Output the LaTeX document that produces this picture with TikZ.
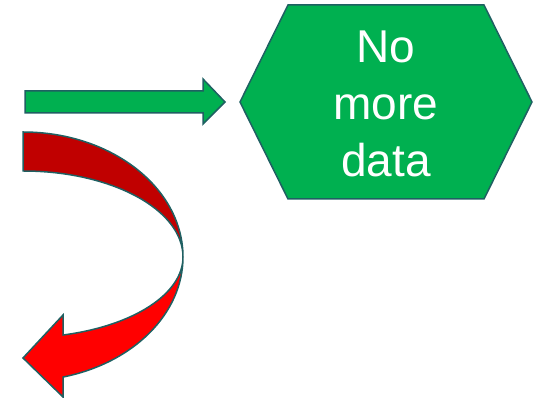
\documentclass[tikz,border=0pt]{standalone}
\usepackage{fontspec}
\setmainfont{Liberation Sans}
\usepackage{xcolor}
\usetikzlibrary{calc}
\definecolor{boxgreen}{HTML}{00B050}
\definecolor{edgeteal}{HTML}{1F6062}
\definecolor{darkred}{HTML}{C00000}
\definecolor{brightred}{HTML}{FF0000}

\begin{document}
\begin{tikzpicture}[x=1pt,y=1pt]
\tikzset{
				shapeline/.style={
					draw=edgeteal,
					line width=1.5pt,
					line join=miter
				},
				hextext/.style={
					text=white,
					align=center,
					inner sep=0pt,
					font=\fontsize{46}{57}\selectfont
				}
			}
			\useasboundingbox (0,0) rectangle (538,398);
			\coordinate (hexC) at (386,296);
			\coordinate (hexW) at ($(hexC)+(-146,0)$);
			\coordinate (gtail) at (25,296);
			\coordinate (gtip) at ($(hexW)+(-15,0)$);
			\coordinate (curl) at (23,141);
			
			% hexagon
			\draw[shapeline,fill=boxgreen] (hexW) -- ($(hexC)+(-98,97)$) -- ($(hexC)+(98,97)$)
				-- ($(hexC)+(146,0)$) -- ($(hexC)+(98,-97)$) -- ($(hexC)+(-98,-97)$) -- cycle;
			\node[hextext] (nomore) at ($(hexC)+(0,-2)$) {No\\more\\data};
			
			% green block arrow
			\draw[shapeline,fill=boxgreen] ($(gtail)+(0,11)$) -- ($(gtip)+(-22,11)$) -- ($(gtip)+(-22,23)$)
				-- (gtip) -- ($(gtip)+(-22,-22)$) -- ($(gtip)+(-22,-11)$) -- ($(gtail)+(0,-11)$) -- cycle;
			
			% red curved arrow
			\draw[shapeline,fill=darkred] ($(curl)+(0,125)$) arc[start angle=90,end angle=0,x radius=160,y radius=125]
				arc[start angle=0,end angle=90,x radius=160,y radius=86] -- cycle;
			\draw[shapeline,fill=brightred] ($(curl)+(160,0)$) arc[start angle=0,end angle=-75.52,x radius=160,y radius=124]
				-- ($(curl)+(40,-140)$) -- ($(curl)+(0,-101)$) -- ($(curl)+(40,-58)$) -- ($(curl)+(40,-78)$)
				arc[start angle=-75.52,end angle=0,x radius=160,y radius=80.5] -- cycle;
\end{tikzpicture}
\end{document}
